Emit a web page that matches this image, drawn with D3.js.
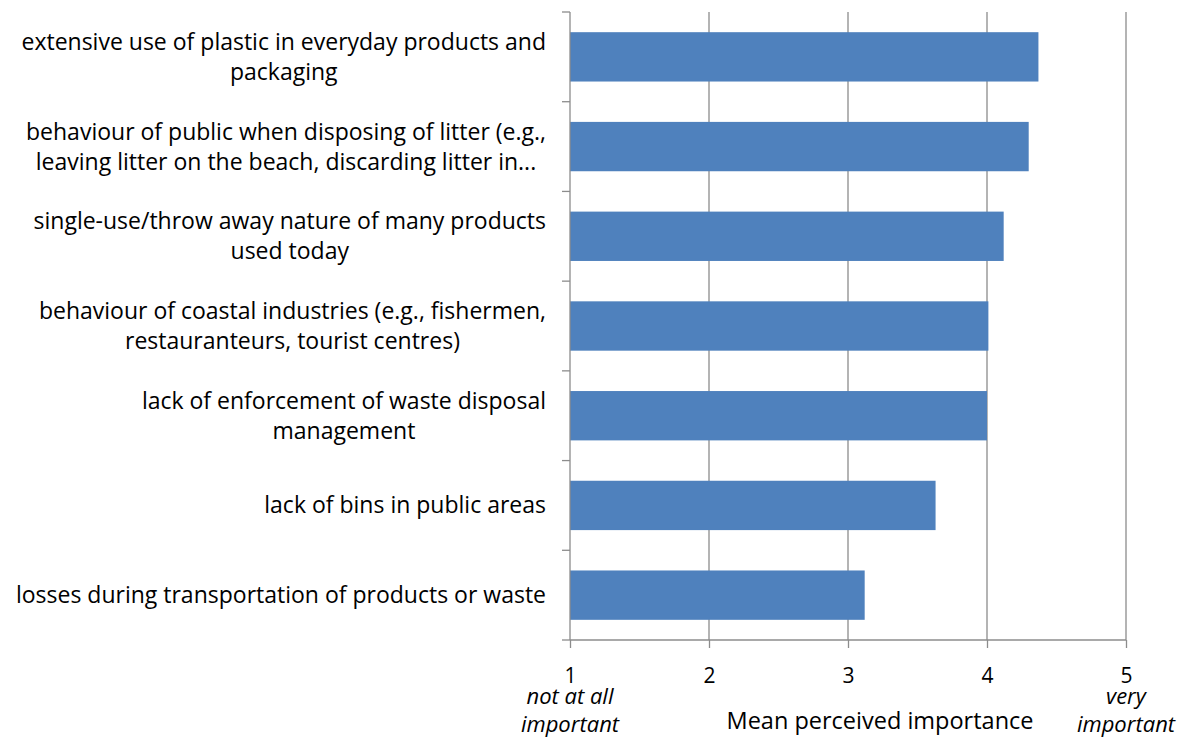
<!DOCTYPE html>
<html><head><meta charset="utf-8">
<script src="https://cdn.jsdelivr.net/npm/d3@7"></script>
<style>body{margin:0;background:#fff}svg{display:block}</style>
</head><body>
<svg id="chart" width="1196" height="737"></svg>
<script>
const categories = [
  ["extensive use of plastic in everyday products and", "packaging"],
  ["behaviour of public when disposing of litter (e.g.,", "leaving litter on the beach, discarding litter in..."],
  ["single-use/throw away nature of many products", "used today"],
  ["behaviour of coastal industries (e.g., fishermen,", "restauranteurs, tourist centres)"],
  ["lack of enforcement of waste disposal", "management"],
  ["lack of bins in public areas"],
  ["losses during transportation of products or waste"]
];
const values = [4.37, 4.30, 4.12, 4.01, 4.00, 3.63, 3.12];
const xTicks = [1, 2, 3, 4, 5];
const xTitle = "Mean perceived importance";
const lowLabel = ["not at all", "important"];
const highLabel = ["very", "important"];

(function() {
const svg = d3.select("#chart");
const font = "'Open Sans', sans-serif";
const pl = 570, pr = 1126, pt = 12, pb = 640;
const x = d3.scaleLinear().domain([1, 5]).range([pl, pr]);
const y = d3.scaleBand().domain(d3.range(categories.length)).range([pt, pb]).paddingInner(0.45).paddingOuter(0.225);

svg.append("g").selectAll("line").data(xTicks.slice(1)).join("line")
  .attr("x1", d => x(d)).attr("x2", d => x(d)).attr("y1", pt).attr("y2", pb)
  .attr("stroke", "#8c8c8c").attr("stroke-width", 1.3);

svg.append("g").selectAll("rect").data(values).join("rect")
  .attr("x", x(1)).attr("y", (d, i) => y(i)).attr("width", d => x(d) - x(1)).attr("height", y.bandwidth())
  .attr("fill", "#4F81BD");

const xa = svg.append("g").attr("transform", `translate(0,${pb})`)
  .call(d3.axisBottom(x).tickValues(xTicks).tickSize(8).tickPadding(20).tickFormat(d3.format("d")));
xa.select(".domain").attr("stroke", "#8c8c8c").attr("stroke-width", 1.3).attr("d", `M${pl},0H${pr}`);
xa.selectAll(".tick line").attr("stroke", "#8c8c8c").attr("stroke-width", 1.3);
xa.selectAll(".tick text").attr("font-family", font).attr("font-size", 21).attr("fill", "#000");

const bounds = d3.range(categories.length + 1).map(i => pt + i * (pb - pt) / categories.length);
svg.append("line").attr("x1", pl).attr("x2", pl).attr("y1", pt).attr("y2", pb)
  .attr("stroke", "#8c8c8c").attr("stroke-width", 1.3);
svg.append("g").selectAll("line").data(bounds).join("line")
  .attr("x1", pl - 8).attr("x2", pl).attr("y1", d => d).attr("y2", d => d)
  .attr("stroke", "#8c8c8c").attr("stroke-width", 1.3);

const lab = svg.append("g").selectAll("text").data(categories).join("text")
  .attr("font-family", font).attr("font-size", 23).attr("fill", "#000").attr("text-anchor", "middle");
lab.each(function(lines, i) {
  const t = d3.select(this);
  const cy = y(i) + y.bandwidth() / 2;
  const lh = 30;
  const n = lines.length;
  lines.forEach((l, k) => {
    t.append("tspan").attr("y", cy + (k - (n - 1) / 2) * lh + 8).text(l);
  });
});
lab.each(function() {
  const t = d3.select(this);
  let w = 0;
  t.selectAll("tspan").each(function() { w = Math.max(w, this.getComputedTextLength()); });
  t.selectAll("tspan").attr("x", 546 - w / 2);
});

function multi(lines, cx, y0) {
  const t = svg.append("text").attr("font-family", font).attr("font-size", 22).attr("font-style", "italic")
    .attr("text-anchor", "middle").attr("fill", "#000");
  lines.forEach((l, k) => t.append("tspan").attr("x", cx).attr("y", y0 + k * 28).text(l));
}
multi(lowLabel, x(1), 704);
multi(highLabel, x(5), 704);

svg.append("text").attr("x", 880).attr("y", 729).attr("text-anchor", "middle")
  .attr("font-family", font).attr("font-size", 23.5).attr("fill", "#000").text(xTitle);
})();
</script>
</body></html>
